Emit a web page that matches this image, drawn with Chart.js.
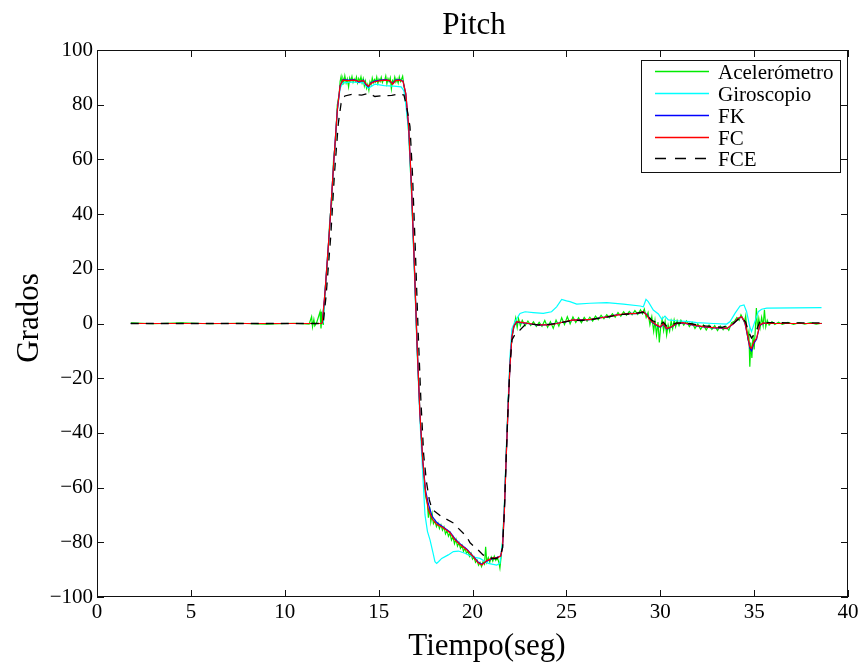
<!DOCTYPE html>
<html>
<head>
<meta charset="utf-8">
<script src="https://cdn.jsdelivr.net/npm/chart.js@4/dist/chart.umd.min.js"></script>
<style>
html,body{margin:0;padding:0;background:#fff;}
canvas{display:block;}
</style>
</head>
<body>
<canvas id="c" width="862" height="662"></canvas>
<script>
// ---- data: [tiempo (seg), grados] ----
const xTicks = [0, 5, 10, 15, 20, 25, 30, 35, 40];
const yTicks = [-100, -80, -60, -40, -20, 0, 20, 40, 60, 80, 100];
const seriesNames = ['Acelerómetro', 'Giroscopio', 'FK', 'FC', 'FCE'];

const fc = [
[1.8,0],[11.95,0],[12.0,0.3],[12.15,12],[12.4,36],[12.6,58],[12.8,78],[12.95,87],[13.1,89],[13.4,88.8],[13.7,89],[13.95,88.5],[14.2,88.8],[14.3,87.8],[14.45,86.8],[14.6,87.8],[14.8,88.4],[15.1,88.8],[15.4,89],[15.6,88.8],[15.75,87.5],[15.9,88.8],[16.1,89],[16.3,88.5],[16.45,84],[16.6,72],[16.75,50],[16.9,22],[17.05,-8],[17.2,-33],[17.35,-50],[17.5,-62],[17.65,-68],[17.85,-71.5],[18.1,-73.5],[18.4,-74.5],[18.8,-76.5],[19.05,-79],[19.3,-80.6],[19.7,-82.8],[19.95,-84.6],[20.3,-87.5],[20.5,-88.3],[20.75,-86.7],[21.1,-85.7],[21.3,-85.7],[21.5,-85],[21.6,-82],[21.7,-68],[21.8,-48],[21.9,-30],[22.0,-15],[22.1,-5],[22.2,-1],[22.35,0.7],[22.7,0.3],[23.0,0],[23.5,-0.5],[24.1,-0.5],[24.5,0],[25.0,0.8],[25.35,1.3],[25.8,1.2],[26.3,1.5],[26.8,2],[27.2,2.5],[27.6,3],[28.0,3.4],[28.4,3.6],[28.75,3.7],[29.1,4.3],[29.28,3.1],[29.4,1.8],[29.55,0.7],[29.8,-0.5],[30.0,-1.2],[30.16,0],[30.34,-1.8],[30.6,-1.2],[30.87,0],[31.2,0.3],[31.56,-0.2],[31.95,-0.8],[32.4,-1.2],[32.85,-1.5],[33.3,-1.6],[33.55,-1.8],[33.9,0],[34.15,1.9],[34.33,2.5],[34.5,0.7],[34.65,-4.2],[34.77,-8.5],[34.86,-9.1],[34.99,-6.6],[35.13,-5.4],[35.3,-0.5],[35.5,0.2],[35.7,0],[38.6,0]
];

const fk = [
[1.8,0],[11.95,0],[12.0,0.3],[12.15,12],[12.4,36],[12.6,58],[12.8,78],[12.95,87],[13.1,89.2],[13.4,89],[13.7,89.2],[13.95,88.3],[14.2,89],[14.3,87.5],[14.45,86.5],[14.6,88],[14.8,88.6],[15.1,89],[15.4,89.2],[15.6,88.6],[15.75,87.8],[15.9,89],[16.1,89.2],[16.3,88.6],[16.45,84],[16.6,72],[16.75,50],[16.9,22],[17.05,-8],[17.2,-33],[17.35,-50],[17.5,-61],[17.65,-66],[17.85,-70.5],[18.1,-72.8],[18.4,-74.2],[18.8,-76.2],[19.05,-78.6],[19.3,-80.3],[19.7,-82.5],[19.95,-84.4],[20.3,-87.2],[20.5,-88],[20.75,-86.9],[21.1,-85.9],[21.3,-85.5],[21.5,-85],[21.6,-82],[21.7,-68],[21.8,-48],[21.9,-30],[22.0,-15],[22.1,-5],[22.2,-1.2],[22.35,0.5],[22.7,0.2],[23.0,-0.1],[23.5,-0.6],[24.1,-0.4],[24.5,0.1],[25.0,0.7],[25.35,1.2],[25.8,1.3],[26.3,1.4],[26.8,2.1],[27.2,2.4],[27.6,3.1],[28.0,3.3],[28.4,3.7],[28.75,3.6],[29.1,4.2],[29.28,3.3],[29.4,2],[29.55,0.5],[29.8,-0.7],[30.0,-1.4],[30.16,-0.2],[30.34,-2],[30.6,-1.3],[30.87,-0.1],[31.2,0.2],[31.56,-0.3],[31.95,-0.9],[32.4,-1.3],[32.85,-1.6],[33.3,-1.7],[33.55,-1.9],[33.9,-0.1],[34.15,1.8],[34.33,2.4],[34.5,0.5],[34.65,-4.6],[34.77,-9],[34.86,-10],[34.99,-7.2],[35.13,-5.8],[35.3,-0.7],[35.5,0.1],[35.7,0],[38.6,0]
];

const gyro = [
[1.8,0],[11.95,0],[12.05,0.5],[12.15,12],[12.4,36],[12.6,58],[12.8,78],[12.95,86],[13.1,88],[13.6,88.3],[14.2,88],[14.45,86],[14.8,87.5],[15.3,87],[15.8,86.8],[16.2,86.5],[16.35,85],[16.45,80],[16.6,70],[16.75,48],[16.9,20],[17.05,-10],[17.2,-35],[17.35,-55],[17.47,-70],[17.6,-76],[17.74,-79.2],[17.9,-84],[18.0,-87.1],[18.09,-87.7],[18.2,-87],[18.36,-85.9],[18.71,-84.6],[18.98,-83.4],[19.25,-83.2],[19.6,-84],[19.96,-85.3],[20.4,-85.9],[20.84,-87.7],[21.29,-88.3],[21.46,-87.7],[21.6,-80],[21.7,-66],[21.8,-46],[21.9,-28],[22.0,-12],[22.1,-2],[22.26,0.7],[22.53,3.7],[22.8,4.3],[23.24,4.0],[23.77,3.7],[24.21,4.3],[24.48,6.1],[24.75,8.8],[25.01,8.3],[25.19,8.0],[25.55,7.1],[26.26,7.4],[27.15,7.6],[28.04,7.1],[28.93,6.4],[29.1,6.1],[29.24,8.8],[29.36,8.0],[29.63,4.9],[29.9,3.5],[30.08,1.5],[30.25,2.7],[30.43,1.3],[30.87,1.0],[31.56,0.7],[31.94,0.3],[32.83,0],[33.54,-0.2],[33.72,0.7],[33.98,3.7],[34.25,6.4],[34.46,6.8],[34.6,4.3],[34.77,-1.2],[34.86,-3.0],[35.04,0.7],[35.22,4.3],[35.4,5.2],[35.67,5.6],[38.59,5.8]
];

const fce = [
[1.8,0],[11.95,0],[12.05,0.3],[12.2,10],[12.45,32],[12.65,55],[12.85,73],[13.0,80.5],[13.2,83.2],[13.6,83.8],[14.1,83.5],[14.45,84.2],[14.8,83],[15.2,83.3],[15.7,83.4],[16.1,83.9],[16.35,83.5],[16.5,79],[16.67,72],[16.8,55],[16.95,28],[17.1,-2],[17.25,-28],[17.4,-48],[17.55,-58],[17.7,-64.5],[17.85,-68],[18.35,-70.6],[19.0,-73],[19.25,-74.9],[19.7,-78],[19.87,-80.2],[20.3,-82.8],[20.56,-84.6],[20.93,-85.7],[21.2,-86],[21.45,-85.5],[21.6,-82],[21.7,-68],[21.8,-48],[21.9,-30],[22.0,-15],[22.1,-6],[22.3,-3.5],[22.53,-2.4],[22.8,-0.5],[23.1,-0.2],[23.5,-0.5],[24.1,-0.3],[24.5,0],[25.0,0.7],[25.35,1.2],[25.8,1.1],[26.3,1.4],[26.8,2],[27.2,2.4],[27.6,2.9],[28.0,3.3],[28.4,3.5],[28.75,3.8],[29.1,4.1],[29.28,3.3],[29.55,1.2],[29.8,0.3],[30.0,-0.5],[30.16,0.5],[30.34,-1],[30.6,-0.5],[30.87,0.2],[31.56,0],[32.4,-0.9],[33.3,-1.4],[33.9,0],[34.2,1.8],[34.35,2.2],[34.55,0.5],[34.7,-3],[34.86,-5.3],[35.0,-4],[35.13,-2.4],[35.3,0.7],[35.7,0.3],[38.6,0.2]
];

const accel = [
[1.8,0.2],[3,-0.1],[4.5,0.2],[6,-0.1],[7.5,0.1],[9,-0.2],[10.5,0.1],[11.3,-0.2],[11.43,2.5],[11.48,-1.2],[11.55,1.5],[11.6,-0.8],[11.7,0.3],[11.88,4.3],[11.93,-1.8],[11.98,2.8],[12.05,-0.5],[12.15,12],[12.3,25],[12.4,38],[12.5,44],[12.6,60],[12.7,66],[12.8,80],[12.9,84],[12.95,88.5],
[13.0,90.2],[13.05,87.5],[13.1,89.6],[13.15,88.4],[13.2,90.6],[13.27,88],[13.33,89.4],[13.4,86.5],[13.46,89.8],[13.52,88.6],[13.58,90.3],[13.64,88.2],[13.7,89.4],[13.76,88.5],[13.82,90.1],[13.88,88],[13.94,89.6],[14.0,88.5],[14.06,90.2],[14.12,88],[14.18,89.5],[14.24,86.8],[14.3,88.6],[14.36,86],[14.42,87.4],[14.48,85.3],[14.54,88.4],[14.6,87.3],[14.66,89.8],[14.72,88.1],[14.78,89.2],[14.84,88.3],[14.9,90.1],[14.96,87.8],[15.02,89.4],[15.08,88.5],[15.14,90],[15.2,88.1],[15.26,89.1],[15.32,88.9],[15.38,90.5],[15.44,87.6],[15.5,89.5],[15.56,88.4],[15.62,89.8],[15.68,85.8],[15.74,88.8],[15.8,88.1],[15.86,90.1],[15.92,88.3],[15.98,89.4],[16.04,87.9],[16.1,90.2],[16.16,88.5],[16.22,89.3],[16.28,90.4],[16.34,87.4],
[16.45,82],[16.6,70],[16.75,48],[16.9,21],[17.05,-9],[17.2,-33],[17.35,-51],[17.5,-63],[17.6,-66],[17.65,-71],[17.72,-67],[17.78,-72.5],[17.85,-69.5],
[17.92,-73.2],[18.0,-72.2],[18.08,-74.3],[18.16,-73],[18.24,-75],[18.32,-73.6],[18.4,-75.6],[18.48,-74.4],[18.56,-76.9],[18.64,-75.7],[18.72,-77.8],[18.8,-76.6],[18.88,-79.2],[18.96,-78],[19.04,-80.5],[19.12,-78.9],[19.2,-81.4],[19.28,-80.2],[19.36,-82.2],[19.44,-81.1],[19.52,-83.3],[19.6,-82.2],[19.68,-84],[19.76,-83.2],[19.84,-85.1],[19.92,-84],[20.0,-86.1],[20.08,-85.3],[20.16,-87.3],[20.24,-86.5],[20.32,-88.4],[20.4,-87.4],[20.48,-88.9],[20.56,-87.1],[20.64,-88],[20.7,-81.6],[20.76,-87.2],[20.84,-85.6],[20.92,-87.3],[21.0,-85.4],[21.08,-86.9],[21.16,-85.1],[21.24,-86.6],[21.32,-85.6],[21.4,-87.2],[21.46,-89.4],[21.52,-85.5],
[21.6,-80],[21.7,-67],[21.8,-47],[21.9,-29],[22.0,-14],[22.1,-5],[22.2,-1.5],[22.3,2],[22.38,-1.5],[22.45,1.8],[22.55,-0.8],[22.65,1.2],
[22.8,-0.8],[22.95,0.9],[23.1,-0.7],[23.25,0.6],[23.4,-1.1],[23.55,0.4],[23.7,-1],[23.85,1.1],[24.0,-1.4],[24.15,0.7],[24.3,-1.8],[24.45,1.2],[24.6,-1],[24.75,2.1],[24.9,-0.4],[25.05,2.5],[25.2,-0.1],[25.35,2.4],[25.5,0.4],[25.65,2.1],[25.8,0.3],[25.95,2.2],[26.1,0.8],[26.25,2.3],[26.4,0.9],[26.55,2.7],[26.7,1.4],[26.85,3],[27.0,1.7],[27.15,3.2],[27.3,2.1],[27.45,3.6],[27.6,2.3],[27.75,4],[27.9,2.7],[28.05,4.3],[28.2,3],[28.35,4.4],[28.5,3.2],[28.65,4.7],[28.8,3.3],[28.95,5],[29.05,3.6],[29.15,5.3],[29.25,2.2],[29.35,4],[29.45,-0.5],[29.55,2.5],[29.65,-2.8],[29.72,1],[29.8,-4.2],[29.88,0.5],[29.95,-6.9],[30.02,-1.5],[30.1,1.5],[30.18,-2.6],[30.26,0.8],[30.34,-4.2],[30.42,-0.5],[30.5,-2.8],[30.58,0.9],[30.66,-1.9],[30.74,1.3],[30.82,-1.2],[30.9,1.1],[31.0,-0.8],[31.1,1.2],[31.25,-0.6],[31.4,0.9],[31.55,-1.1],[31.7,0.4],[31.85,-1.8],[32.0,-0.2],[32.15,-2.1],[32.3,-0.5],[32.45,-2.4],[32.6,-0.6],[32.75,-2.2],[32.9,-0.8],[33.05,-2.6],[33.2,-0.9],[33.35,-2.3],[33.5,-1.1],[33.65,-2.5],[33.8,0.3],[33.95,0.8],[34.08,2.2],[34.2,1.2],[34.3,3.2],[34.4,1.8],[34.48,0.5],[34.55,2.8],[34.6,-1.5],[34.66,-5.2],[34.72,-3],[34.77,-15.8],[34.82,-7],[34.88,-12.6],[34.94,-4.5],[35.0,-9.5],[35.06,-2.5],[35.12,5.7],[35.18,-2.2],[35.25,1.8],[35.32,-1.5],[35.4,2.2],[35.48,-0.8],[35.55,5.0],[35.62,-1.2],[35.7,1.2],[35.8,-0.6],[35.95,0.7],[36.1,-0.4],[36.3,0.5],[36.5,-0.3],[36.8,0.4],[37.1,-0.3],[37.4,0.3],[37.7,-0.2],[38.0,0.3],[38.3,-0.2],[38.6,0.1]
];

// ---- styles ----
const FONT = 'Liberation Serif, Times New Roman, serif';
const colors = ['rgb(0,235,0)', 'rgb(0,255,255)', 'rgb(0,0,255)', 'rgb(255,0,0)', 'rgb(0,0,0)'];
const dashes = [[], [], [], [], [8, 7]];
const orders = [5, 4, 3, 2, 1];
const allSeries = [accel, gyro, fk, fc, fce];

const toXY = a => a.map(p => ({ x: p[0], y: p[1] }));
const fmt = v => String(v).replace('-', '\u2212');

const datasets = allSeries.map((s, i) => ({
  label: seriesNames[i],
  data: toXY(s),
  borderColor: colors[i],
  borderWidth: i === 4 ? 1.3 : 1.2,
  borderDash: dashes[i],
  pointRadius: 0,
  tension: 0,
  fill: false,
  order: orders[i]
}));

const decor = {
  id: 'decor',
  afterDraw(chart) {
    const ctx = chart.ctx;
    const a = chart.chartArea;
    const xs = chart.scales.x, ys = chart.scales.y;
    ctx.save();
    ctx.strokeStyle = '#111';
    ctx.lineWidth = 1;
    ctx.setLineDash([]);
    // frame
    ctx.strokeRect(Math.round(a.left) + 0.5, Math.round(a.top) + 0.5,
                   Math.round(a.right - a.left) - 1, Math.round(a.bottom - a.top) - 1);
    // inward ticks
    const tl = 7;
    ctx.beginPath();
    xTicks.forEach(v => {
      const px = Math.round(xs.getPixelForValue(v)) + 0.5;
      ctx.moveTo(px, a.bottom); ctx.lineTo(px, a.bottom - tl);
      ctx.moveTo(px, a.top); ctx.lineTo(px, a.top + tl);
    });
    yTicks.forEach(v => {
      const py = Math.round(ys.getPixelForValue(v)) + 0.5;
      ctx.moveTo(a.left, py); ctx.lineTo(a.left + tl, py);
      ctx.moveTo(a.right, py); ctx.lineTo(a.right - tl, py);
    });
    ctx.stroke();

    // title & axis titles
    ctx.fillStyle = '#000';
    ctx.textAlign = 'center';
    ctx.textBaseline = 'alphabetic';
    ctx.font = '31px ' + FONT;
    ctx.fillText('Pitch', 474, 34);
    ctx.fillText('Tiempo(seg)', 487, 655);
    ctx.save();
    ctx.translate(38, 318);
    ctx.rotate(-Math.PI / 2);
    ctx.fillText('Grados', 0, 0);
    ctx.restore();

    // legend
    const lx = 641, ly = 60, lw = 199, lh = 112;
    ctx.fillStyle = '#fff';
    ctx.fillRect(lx, ly, lw, lh);
    ctx.strokeStyle = '#111';
    ctx.strokeRect(lx + 0.5, ly + 0.5, lw, lh);
    const rows = [71, 93, 115, 137, 158];
    ctx.font = '21px ' + FONT;
    ctx.textAlign = 'left';
    seriesNames.forEach((n, i) => {
      ctx.strokeStyle = colors[i];
      ctx.lineWidth = 1.3;
      ctx.setLineDash(i === 4 ? [11, 9] : []);
      ctx.beginPath();
      ctx.moveTo(655, rows[i] + 0.5);
      ctx.lineTo(709, rows[i] + 0.5);
      ctx.stroke();
      ctx.setLineDash([]);
      ctx.fillStyle = '#000';
      ctx.fillText(n, 718, rows[i] + 8);
    });
    ctx.restore();
  }
};

new Chart(document.getElementById('c'), {
  type: 'line',
  data: { datasets },
  options: {
    responsive: false,
    animation: false,
    devicePixelRatio: 1,
    layout: { padding: { top: 50, right: 14, left: 0, bottom: 0 } },
    plugins: { legend: { display: false }, tooltip: { enabled: false }, title: { display: false } },
    scales: {
      x: {
        type: 'linear', min: 0, max: 40,
        afterFit: s => { s.height = 65; },
        afterBuildTicks: s => { s.ticks = xTicks.map(v => ({ value: v })); },
        grid: { display: false, drawTicks: false },
        border: { display: false },
        ticks: { color: '#000', font: { family: FONT, size: 21 }, padding: 3, maxRotation: 0, callback: v => fmt(v) }
      },
      y: {
        type: 'linear', min: -100, max: 100,
        afterFit: s => { s.width = 97; },
        afterBuildTicks: s => { s.ticks = yTicks.map(v => ({ value: v })); },
        grid: { display: false, drawTicks: false },
        border: { display: false },
        ticks: { color: '#000', font: { family: FONT, size: 21 }, padding: 4, callback: v => fmt(v) }
      }
    }
  },
  plugins: [decor]
});
</script>
</body>
</html>
